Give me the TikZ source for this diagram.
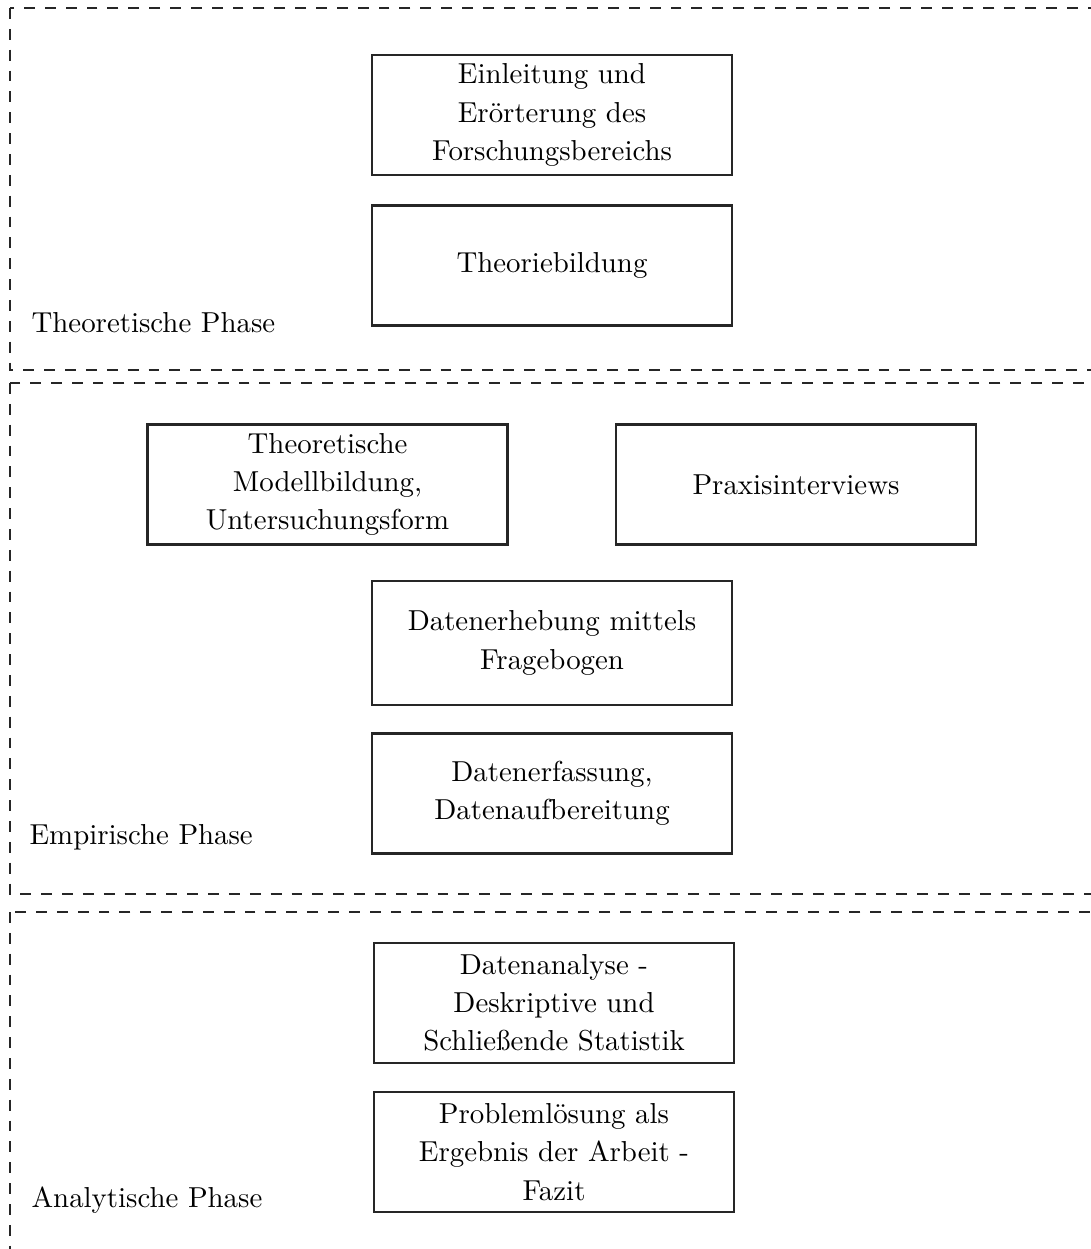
\documentclass[tikz,border=0pt]{standalone}
\usepackage{fontspec}
\begin{document}
\begin{tikzpicture}[x=0.35pt,y=-0.35pt,
  phase/.style={draw=black!85, line width=0.7pt, dash pattern=on 3.8pt off 3.5pt},
  stepbox/.style={draw=black!85, line width=0.8pt, rectangle, minimum width=126pt,
    minimum height=42pt, align=center, inner sep=0pt,
    font=\fontsize{10.1}{13.4}\selectfont},
  phaselabel/.style={anchor=west, inner sep=0pt, font=\fontsize{10.1}{13.4}\selectfont}]
\useasboundingbox (0,0) rectangle (1090,1249);

% phase frames (continue past the right and lower edge)
\draw[phase] (10,8) rectangle (1110,370);
\draw[phase] (10,383) rectangle (1110,894);
\draw[phase] (10,912) rectangle (1110,1280);

% theoretical phase
\node[stepbox] (einl) at (552,115) {Einleitung und\\Erörterung des\\Forschungsbereichs};
\node[stepbox] (theo) at (552,265.5) {Theoriebildung};
\node[phaselabel] (lt) at (31,323) {Theoretische Phase};

% empirical phase
\node[stepbox] (modell) at (327.5,484.5) {Theoretische\\Modellbildung,\\Untersuchungsform};
\node[stepbox] (praxis) at (796,484.5) {Praxisinterviews};
\node[stepbox, minimum height=43.4pt] (erheb) at (552,643) {Datenerhebung mittels\\Fragebogen};
\node[stepbox] (erfass) at (552,793.5) {Datenerfassung,\\Datenaufbereitung};
\node[phaselabel] (le) at (29,837) {Empirische Phase};

% analytical phase
\node[stepbox] (analyse) at (554,1003) {Datenanalyse -\\Deskriptive und\\Schließende Statistik};
\node[stepbox] (fazit) at (554,1152) {Problemlösung als\\Ergebnis der Arbeit -\\Fazit};
\node[phaselabel] (la) at (31,1200) {Analytische Phase};
\end{tikzpicture}
\end{document}
